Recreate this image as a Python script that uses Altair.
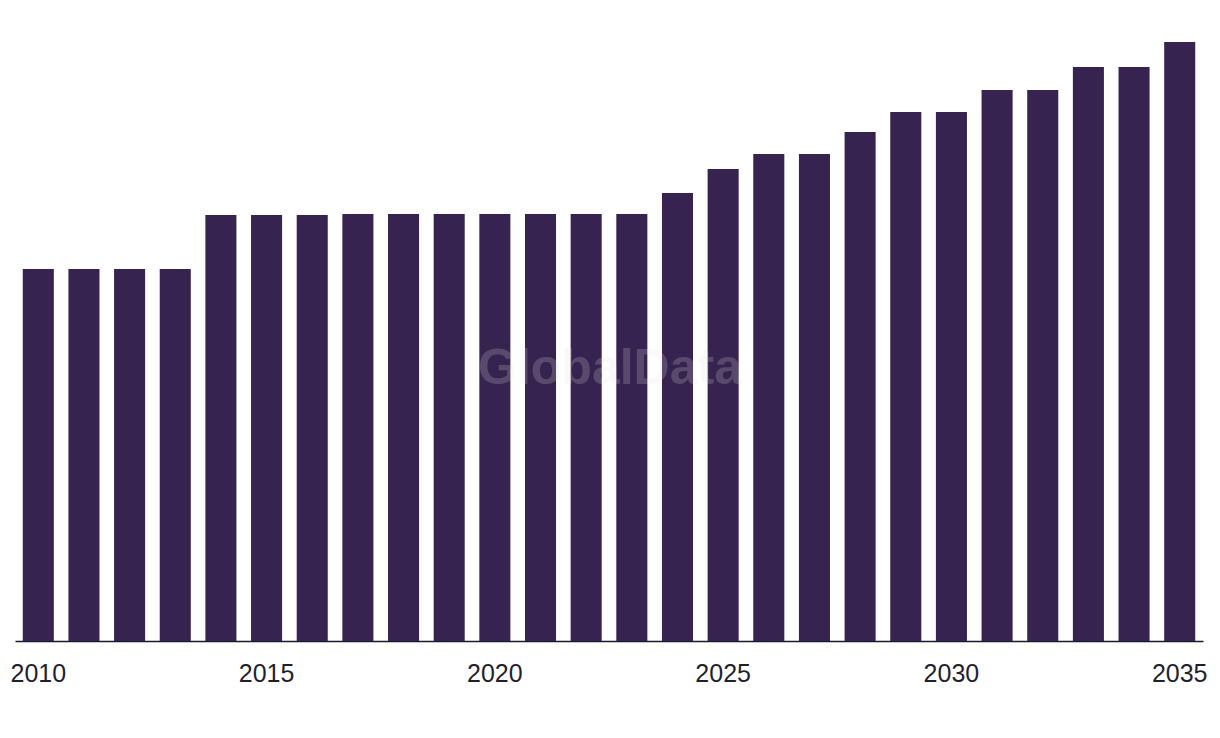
import altair as alt
import pandas as pd

years = list(range(2010, 2036))
values = [37.2, 37.2, 37.2, 37.2,
          42.6, 42.6, 42.6,
          42.7, 42.7, 42.7, 42.7, 42.7, 42.7, 42.7,
          44.8, 47.2, 48.7, 48.7, 50.9, 52.9, 52.9,
          55.1, 55.1, 57.4, 57.4, 59.9]
tick_years = [2010, 2015, 2020, 2025, 2030, 2035]
watermark = "GlobalData"

df = pd.DataFrame({"year": years, "value": values})

bars = alt.Chart(df).mark_bar(color="#36234f").encode(
    x=alt.X("year:O",
            scale=alt.Scale(paddingInner=0.32, paddingOuter=0.17),
            axis=alt.Axis(values=tick_years, title=None, labelAngle=0,
                          ticks=False, domain=True, domainColor="#1a1a2e",
                          domainWidth=1.5, labelFont="Liberation Sans",
                          labelFontSize=25, labelColor="#1f1f2e",
                          labelPadding=20, grid=False)),
    y=alt.Y("value:Q", scale=alt.Scale(domain=[0, 64.1], nice=False, zero=True),
            axis=None),
)

wm = alt.Chart(pd.DataFrame({"t": [watermark]})).mark_text(
    font="Liberation Sans", fontSize=50, fontWeight="bold",
    color="#e6e6e6", opacity=0.2, align="center", baseline="middle"
).encode(x=alt.value(595), y=alt.value(369), text="t:N")

chart = alt.layer(bars, wm).properties(
    width=1188, height=641,
    autosize=alt.AutoSizeParams(type="none"),
    padding={"left": 15, "top": 0, "right": 17, "bottom": 97},
    background="white",
).configure_view(stroke=None)

chart.save("out.html", embed_options={"renderer": "svg", "actions": False})
